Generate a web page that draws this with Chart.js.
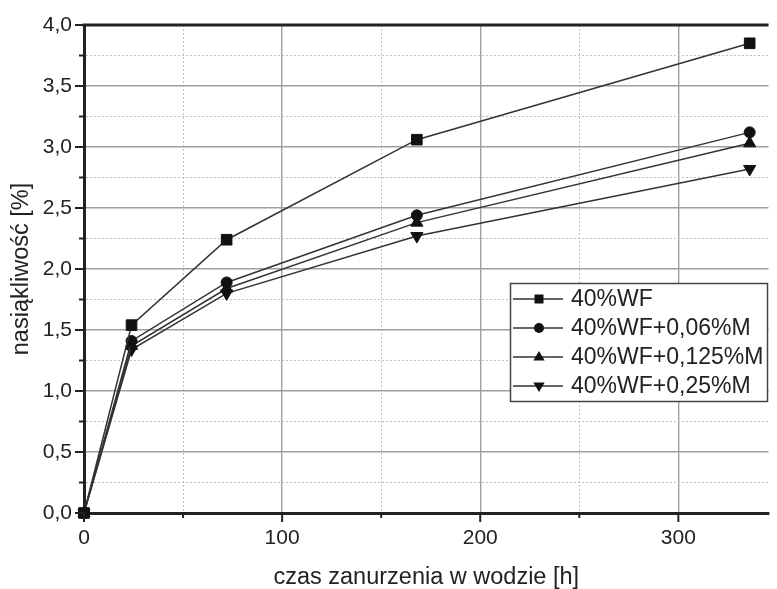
<!DOCTYPE html>
<html>
<head>
<meta charset="utf-8">
<script src="https://cdn.jsdelivr.net/npm/chart.js@4/dist/chart.umd.min.js"></script>
<style>
    body { margin: 0; background: #fff; }
    #wrap { width: 777px; height: 589px; }
</style>
</head>
<body>
<div id="wrap"><canvas id="chart" width="777" height="589"></canvas></div>
<script>
//Data
const hours = [0, 24, 72, 168, 336];
const wf = [0, 1.54, 2.24, 3.06, 3.85];
const wf006 = [0, 1.41, 1.89, 2.44, 3.12];
const wf0125 = [0, 1.37, 1.84, 2.38, 3.03];
const wf025 = [0, 1.34, 1.80, 2.27, 2.82];
const seriesNames = ['40%WF', '40%WF+0,06%M', '40%WF+0,125%M', '40%WF+0,25%M'];
const xTicks = [0, 50, 100, 150, 200, 250, 300];
const yTicks = [0, 0.25, 0.5, 0.75, 1, 1.25, 1.5, 1.75, 2, 2.25, 2.5, 2.75, 3, 3.25, 3.5, 3.75, 4];

const FONT = "'Liberation Sans', Arial, sans-serif";
const ink = '#222';

const isMajorX = v => v % 100 === 0;
const isMajorY = v => Math.abs(v * 2 - Math.round(v * 2)) < 1e-6;

const points = vals => hours.map((h, i) => ({ x: h, y: vals[i] }));

const styles = [
    { pointStyle: 'rect', pointRadius: 7.5, rotation: 0 },
    { pointStyle: 'circle', pointRadius: 5.5, rotation: 0 },
    { pointStyle: 'triangle', pointRadius: 7, rotation: 0 },
    { pointStyle: 'triangle', pointRadius: 7, rotation: 180 }
];

const datasets = [wf, wf006, wf0125, wf025].map((vals, i) => ({
    label: seriesNames[i],
    data: points(vals),
    borderColor: '#333',
    borderWidth: 1.5,
    backgroundColor: '#111',
    pointBackgroundColor: '#111',
    pointBorderColor: '#111',
    pointBorderWidth: 1,
    pointStyle: styles[i].pointStyle,
    pointRadius: styles[i].pointRadius,
    pointRotation: styles[i].rotation,
    tension: 0,
    clip: false
}));

//draws small markers for the legend box
function marker(ctx, style, x, y, r, rot) {
    ctx.beginPath();
    if (style === 'rect') {
        ctx.rect(x - r, y - r, 2 * r, 2 * r);
    } else if (style === 'circle') {
        ctx.arc(x, y, r, 0, Math.PI * 2);
    } else {
        const s = rot ? -1 : 1;
        ctx.moveTo(x, y - s * r);
        ctx.lineTo(x + r * 0.95, y + s * r * 0.6);
        ctx.lineTo(x - r * 0.95, y + s * r * 0.6);
        ctx.closePath();
    }
    ctx.fill();
}

const frame = {
    id: 'frame',
    afterDraw(chart) {
        const c = chart.ctx;
        const a = chart.chartArea;
        const xs = chart.scales.x, ys = chart.scales.y;
        c.save();
        c.strokeStyle = ink;
        c.lineWidth = 2;
        //tick marks
        yTicks.forEach(v => {
            const py = ys.getPixelForValue(v);
            const len = isMajorY(v) ? 9 : 5;
            c.beginPath();
            c.moveTo(a.left - len, py);
            c.lineTo(a.left, py);
            c.stroke();
        });
        xTicks.forEach(v => {
            const px = xs.getPixelForValue(v);
            const len = isMajorX(v) ? 9 : 5;
            c.beginPath();
            c.moveTo(px, a.bottom);
            c.lineTo(px, a.bottom + len);
            c.stroke();
        });
        //top frame line
        c.lineWidth = 3;
        c.beginPath();
        c.moveTo(a.left - 1.5, a.top);
        c.lineTo(a.right, a.top);
        c.stroke();

        //legend
        const bx = 510.5, by = 283.5, bw = 257, bh = 118;
        c.fillStyle = '#fff';
        c.fillRect(bx, by, bw, bh);
        c.lineWidth = 1.5;
        c.strokeStyle = '#444';
        c.strokeRect(bx, by, bw, bh);
        const rows = [299, 328, 357, 386];
        const legR = [4.5, 5, 6, 6];
        c.font = '23px ' + FONT;
        c.textBaseline = 'middle';
        chart.data.datasets.forEach((ds, i) => {
            const y = rows[i];
            c.strokeStyle = '#333';
            c.lineWidth = 1.5;
            c.beginPath();
            c.moveTo(513, y);
            c.lineTo(563, y);
            c.stroke();
            c.fillStyle = '#111';
            marker(c, styles[i].pointStyle, 539, y, legR[i], styles[i].rotation);
            c.fillStyle = ink;
            c.fillText(ds.label, 571, y + 1);
        });
        c.restore();
    }
};

const config = {
    type: 'line',
    data: { datasets: datasets },
    options: {
        responsive: false,
        animation: false,
        layout: { padding: { top: 25, right: 0, left: 0, bottom: 0 } },
        plugins: {
            legend: { display: false },
            tooltip: { enabled: false }
        },
        scales: {
            x: {
                type: 'linear',
                min: 0,
                max: 345.5,
                afterBuildTicks: s => { s.ticks = xTicks.map(v => ({ value: v })); },
                afterFit: s => { s.height = 76; },
                ticks: {
                    autoSkip: false,
                    maxRotation: 0,
                    padding: 13,
                    color: ink,
                    font: { family: FONT, size: 21 },
                    callback: v => isMajorX(v) ? String(v) : ''
                },
                grid: {
                    drawTicks: false,
                    color: c => isMajorX(c.tick.value) ? '#a0a0a0' : '#c0c0c0',
                    lineWidth: c => isMajorX(c.tick.value) ? 1.4 : 1
                },
                border: {
                    display: true,
                    color: ink,
                    width: 3,
                    dash: c => (c.tick && !isMajorX(c.tick.value)) ? [2, 2] : []
                },
                title: {
                    display: true,
                    text: 'czas zanurzenia w wodzie [h]',
                    color: ink,
                    font: { family: FONT, size: 23.5, lineHeight: 1 },
                    padding: { top: 0, bottom: 0 }
                }
            },
            y: {
                type: 'linear',
                min: 0,
                max: 4,
                afterBuildTicks: s => { s.ticks = yTicks.map(v => ({ value: v })); },
                afterFit: s => { s.width = 84; },
                ticks: {
                    autoSkip: false,
                    padding: 12,
                    color: ink,
                    font: { family: FONT, size: 21 },
                    callback: v => isMajorY(v) ? v.toFixed(1).replace('.', ',') : ''
                },
                grid: {
                    drawTicks: false,
                    color: c => isMajorY(c.tick.value) ? '#a0a0a0' : '#c0c0c0',
                    lineWidth: c => isMajorY(c.tick.value) ? 1.4 : 1
                },
                border: {
                    display: true,
                    color: ink,
                    width: 3,
                    dash: c => (c.tick && !isMajorY(c.tick.value)) ? [2, 2] : []
                },
                title: {
                    display: true,
                    text: 'nasiąkliwość [%]',
                    color: ink,
                    font: { family: FONT, size: 23.5, lineHeight: 1.2 },
                    padding: { top: 7, bottom: 0 }
                }
            }
        }
    },
    plugins: [frame]
};

const chart = new Chart(document.getElementById('chart'), config);
</script>
</body>
</html>
